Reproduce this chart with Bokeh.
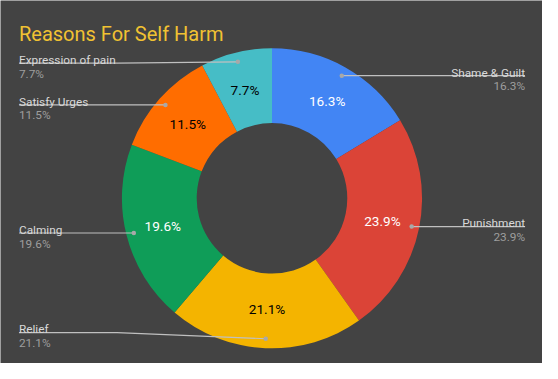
import math
from bokeh.plotting import figure
from bokeh.models import ColumnDataSource, Range1d
from bokeh.core.properties import value
from bokeh.embed import file_html
from bokeh.resources import INLINE

# ---- data ----
categories = ["Shame & Guilt", "Punishment", "Relief", "Calming", "Satisfy Urges", "Expression of pain"]
percents = [16.3, 23.9, 21.1, 19.6, 11.5, 7.7]
colors = ["#4285F4", "#DB4437", "#F4B400", "#0F9D58", "#FF6D00", "#46BDC6"]
inner_text_colors = ["#ffffff", "#ffffff", "#000000", "#ffffff", "#000000", "#000000"]
title_text = "Reasons For Self Harm"

# ---- layout (reference pixel coordinates; y is negated for data space) ----
BG = "#434343"
CX, CY = 279.5, 206.5
R_OUT, R_IN = 154.5, 77.5
FONT = "Roboto"

p = figure(width=542, height=363, output_backend="svg", toolbar_location=None,
           x_range=Range1d(0, 558), y_range=Range1d(-379, 0),
           min_border=0, outline_line_color=None)
p.axis.visible = False
p.grid.visible = False
p.background_fill_color = BG
p.border_fill_color = BG

total = sum(percents)
starts, ends, mids = [], [], []
cum = 0.0
for v in percents:
    a0 = math.pi / 2 - cum / total * 2 * math.pi
    cum += v
    a1 = math.pi / 2 - cum / total * 2 * math.pi
    starts.append(a0)
    ends.append(a1)
    mids.append((a0 + a1) / 2)

src = ColumnDataSource(dict(
    x=[CX] * len(percents), y=[-CY] * len(percents),
    start=starts, end=ends, color=colors,
))
p.annular_wedge(x="x", y="y", inner_radius=R_IN, outer_radius=R_OUT,
                start_angle="start", end_angle="end", direction="clock",
                fill_color="color", line_color=None, source=src)

# inner percentage labels
r_mid = (R_IN + R_OUT) / 2
lab_src = ColumnDataSource(dict(
    x=[CX + r_mid * math.cos(m) for m in mids],
    y=[-CY + r_mid * math.sin(m) for m in mids],
    text=[f"{v:.1f}%" for v in percents],
    color=inner_text_colors,
))
p.text(x="x", y="y", text="text", text_color="color", text_align="center",
       text_baseline="middle", text_font=value(FONT), text_font_size="13.6px",
       source=lab_src)

# callouts
r_dot = R_OUT * 0.95
LEFT_X, RIGHT_X = 19, 540
TOP_LIM, BOT_LIM = 65.3, 346.7
dots_x, dots_y = [], []
for name, v, m in zip(categories, percents, mids):
    dx = CX + r_dot * math.cos(m)
    dy_img = CY - r_dot * math.sin(m)
    dots_x.append(dx)
    dots_y.append(-dy_img)
    ly = min(max(dy_img, TOP_LIM), BOT_LIM)
    left = math.cos(m) < 0
    if left:
        xs = [LEFT_X, 120, dx]
        tx, align = LEFT_X, "left"
    else:
        xs = [RIGHT_X, 440, dx]
        tx, align = RIGHT_X, "right"
    ys = [-ly, -ly, -dy_img]
    p.line(xs, ys, line_color="#c0c0c0", line_width=1.2)
    p.text(x=[tx], y=[-(ly - 3.3)], text=[name], text_align=align,
           text_baseline="alphabetic", text_color="#d9d9d9",
           text_font=value(FONT), text_font_size="11.8px")
    p.text(x=[tx], y=[-(ly + 11)], text=[f"{v:.1f}%"], text_align=align,
           text_baseline="alphabetic", text_color="#9e9e9e",
           text_font=value(FONT), text_font_size="11.8px")

p.scatter(dots_x, dots_y, size=4.5, fill_color="#a8a8a8", line_color=None)

# title
p.text(x=[19], y=[-35], text=[title_text], text_align="left",
       text_baseline="alphabetic", text_color="#F1C232",
       text_font=value(FONT), text_font_size="20px")

open("out.html", "w").write(file_html(p, INLINE))
